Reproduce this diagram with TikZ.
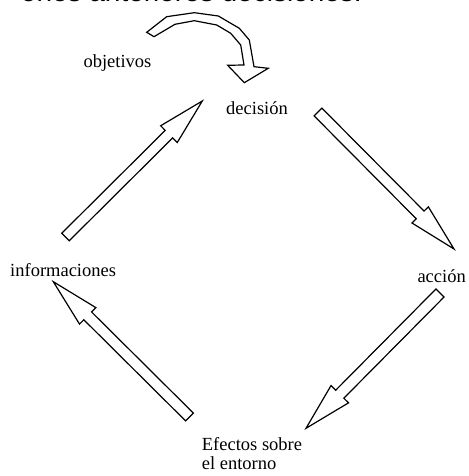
\documentclass[tikz,border=0pt]{standalone}
\usepackage{fontspec}
\setmainfont{Liberation Serif}
\newfontfamily\headfont{Liberation Sans}
\usetikzlibrary{calc}

% Hollow block arrow from #1 to #2: shaft half width #3, head half width #4, head length #5
\newcommand\blockarrow[5]{%
  \path let \p1=($(#2)-(#1)$) in
    \pgfextra{%
      \pgfmathsetmacro\baAng{atan2(\y1,\x1)}%
      \pgfmathsetmacro\baLen{veclen(\x1,\y1)}%
      \xdef\baAngle{\baAng}\xdef\baLength{\baLen}};
  \begin{scope}[shift={(#1)},rotate=\baAngle]
    \draw[hollow] (0,#3) -- (\baLength-#5,#3) -- (\baLength-#5,#4) -- (\baLength,0)
      -- (\baLength-#5,-#4) -- (\baLength-#5,-#3) -- (0,-#3) -- cycle;
  \end{scope}}

\begin{document}
\begin{tikzpicture}[x=1pt,y=1pt,
  hollow/.style={draw=black,line width=1.2pt,line join=miter,fill=white},
  lbl/.style={inner sep=0pt,anchor=base west,font=\fontsize{18.5}{19.5}\selectfont}]
\useasboundingbox (0,0) rectangle (468,476);
\clip (0,0) rectangle (468,476);

% heading line running off the top edge
\node[inner sep=0pt,anchor=base east,font=\headfont\fontsize{28}{30}\selectfont]
  (head) at (362,474.5) {ones anteriores decisiones.};

% labels of the cycle
\node[lbl] (obj) at (83.3,408.7) {objetivos};
\node[lbl] (dec) at (226,361) {decisión};
\node[lbl] (acc) at (417.3,193.5) {acción};
\node[lbl,align=left] (efe) at (201.7,6) {Efectos sobre\\el entorno};
\node[lbl] (inf) at (10,199) {informaciones};

% end points of the block arrows
\coordinate (d2a-s) at (318,364);   \coordinate (d2a-e) at (454,227);
\coordinate (a2e-s) at (440,183);   \coordinate (a2e-e) at (306,47.7);
\coordinate (e2i-s) at (189.5,59);  \coordinate (e2i-e) at (53.3,194.3);
\coordinate (i2d-s) at (65.5,239);  \coordinate (i2d-e) at (202.3,375);

\blockarrow{d2a-s}{d2a-e}{5.5}{11.5}{48}
\blockarrow{a2e-s}{a2e-e}{5.7}{12.3}{48}
\blockarrow{e2i-s}{e2i-e}{5.5}{11.6}{48.5}
\blockarrow{i2d-s}{i2d-e}{5.3}{11.8}{47}

% bent arrow from the objectives into the decision
\coordinate (obj-tail) at (150.3,441.5);
\coordinate (dec-tip) at (244.3,393.3);
\draw[hollow]
  (146.7,443.7) -- (166.7,459.3) -- (194.3,463.3) -- (218.3,460) -- (239.3,447.7)
  -- (249.3,436) -- (254,409.3) -- (268.3,407.7) -- (dec-tip) -- (227.7,410.7)
  -- (244,411) -- (240.7,431) -- (230.7,442.7) -- (216.7,451) -- (194.3,455.3)
  -- (175,451.7) -- (154,439.3) -- cycle;
\end{tikzpicture}
\end{document}
